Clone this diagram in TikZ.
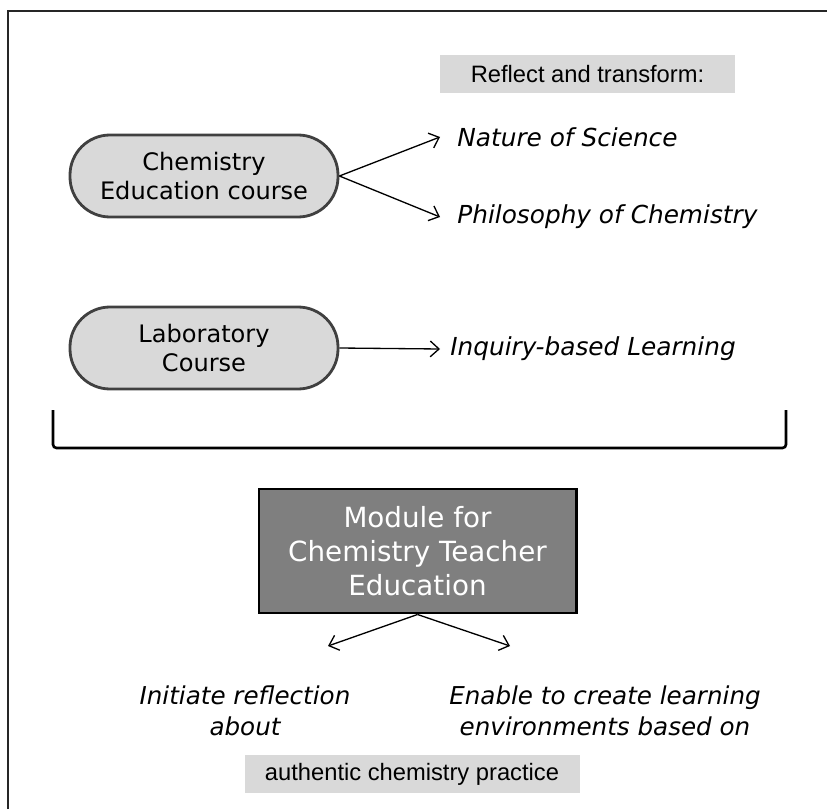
\documentclass[tikz,border=0pt]{standalone}
\usepackage{fontspec}
\setmainfont{DejaVu Sans}
\newfontfamily\notefont{Liberation Sans}
\usetikzlibrary{arrows.meta}
\definecolor{boxgray}{RGB}{217,217,217}
\definecolor{modgray}{RGB}{127,127,127}
\definecolor{rimgray}{RGB}{64,64,64}

\begin{document}
\begin{tikzpicture}[
  course/.style={draw=rimgray, line width=1.6pt, fill=boxgray, rounded corners=0.8cm,
    minimum width=5.36cm, minimum height=1.64cm, align=center,
    font=\fontsize{13.7}{17}\selectfont},
  topic/.style={anchor=west, inner ysep=0pt, font=\fontsize{14.1}{18}\selectfont\itshape},
  note/.style={fill=boxgray, minimum height=0.76cm, font=\notefont\fontsize{13.5}{16}\selectfont},
  aim/.style={align=center, font=\fontsize{14}{18}\selectfont\itshape},
  link/.style={->, line width=0.75pt},
  >={Straight Barb[length=5pt,width=9pt]}
]
\useasboundingbox (0,0) rectangle (16.54,16.18);
\draw[line width=0.9pt, black!85] (0.16,0) -- (0.16,15.96) -- (16.54,15.96);

\node[note, minimum width=5.9cm] (R) at (11.75,14.70) {Reflect and transform:};

\node[course] (CE) at (4.08,12.66) {Chemistry\\Education course};
\node[topic, inner xsep=0.34cm] (NoS) at (8.80,13.44) {Nature of Science};
\node[topic, inner xsep=0.34cm] (PoC) at (8.80,11.84) {Philosophy of Chemistry};

\node[course] (LC) at (4.08,9.22) {Laboratory\\Course};
\node[topic, inner xsep=0.2cm] (IbL) at (8.80,9.20) {Inquiry-based Learning};

\draw[link] (CE.east) -- (NoS.west);
\draw[link] (CE.east) -- (PoC.west);
\draw[link] (LC.east) -- (IbL.west);

\draw[line width=1.5pt, rounded corners=2pt] (1.06,7.98) -- (1.06,7.22) -- (15.72,7.22) -- (15.72,7.98);

\node[draw, line width=1.7pt, fill=modgray, text=white, minimum width=6.34cm, minimum height=2.48cm,
  align=center, font=\fontsize{15.8}{19.2}\selectfont] (M) at (8.35,5.16)
  {Module for\\Chemistry Teacher\\Education};

\coordinate (tipL) at (6.56,3.26);
\coordinate (tipR) at (10.20,3.26);
\draw[link] (M.south) -- (tipL);
\draw[link] (M.south) -- (tipR);

\node[aim] (IR) at (4.90,1.96) {Initiate reflection\\about};
\node[aim] (EC) at (12.10,1.96) {Enable to create learning\\environments based on};

\node[note, minimum width=6.7cm] (AP) at (8.24,0.70) {authentic chemistry practice};
\end{tikzpicture}
\end{document}
